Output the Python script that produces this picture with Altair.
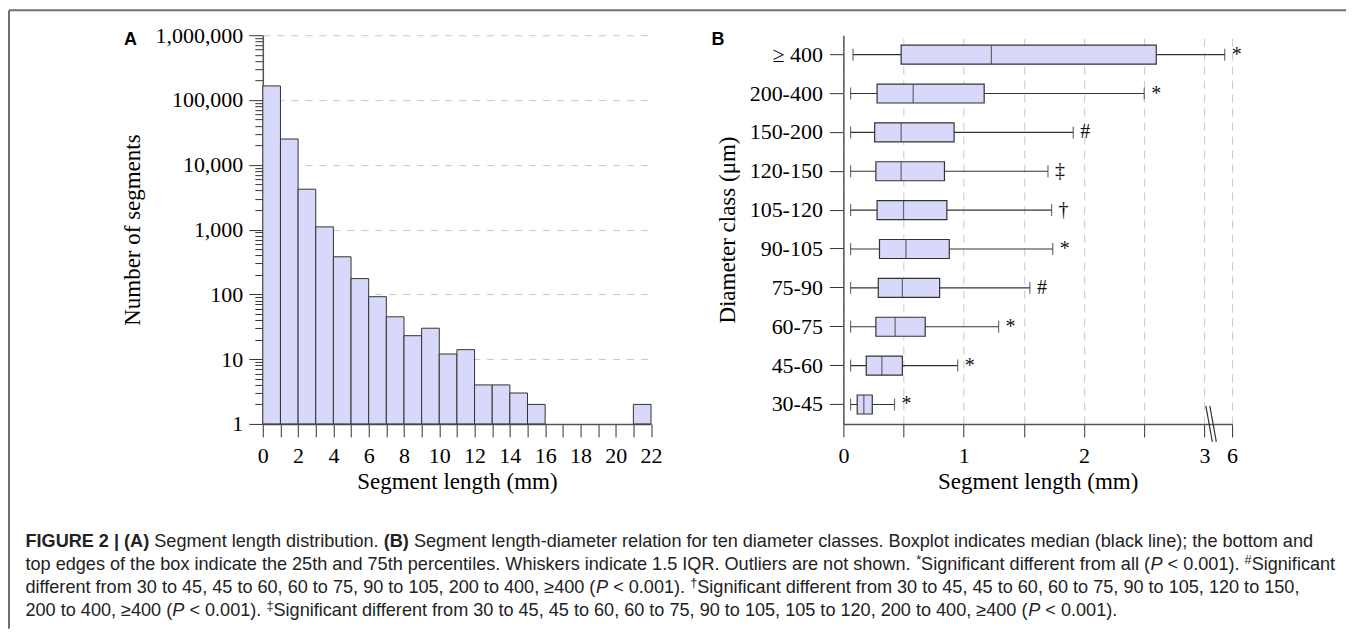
import altair as alt
import pandas as pd

# ---------------- data ----------------
# Panel A: segment length histogram (1 mm bins)
bin_start = list(range(22))
seg_counts = [165000, 25000, 4200, 1100, 380, 175, 92, 45, 23, 30, 12, 14,
              4, 4, 3, 2, 0, 0, 0, 0, 0, 2]

# Panel B: boxplot stats per diameter class (mm)
classes = ["≥ 400", "200-400", "150-200", "120-150", "105-120",
           "90-105", "75-90", "60-75", "45-60", "30-45"]
w_lo = [0.08, 0.06, 0.06, 0.06, 0.06, 0.06, 0.06, 0.06, 0.06, 0.06]
q1 = [0.48, 0.28, 0.26, 0.27, 0.28, 0.30, 0.29, 0.27, 0.19, 0.115]
med = [1.23, 0.58, 0.48, 0.48, 0.50, 0.52, 0.49, 0.43, 0.32, 0.17]
q3 = [2.60, 1.17, 0.92, 0.84, 0.86, 0.88, 0.80, 0.68, 0.49, 0.24]
w_hi = [5.2, 2.50, 1.91, 1.70, 1.73, 1.74, 1.55, 1.29, 0.95, 0.425]
sig = ["*", "*", "#", "‡", "†", "*", "#", "*", "*", "*"]

x_ticks_B = [0, 0.5, 1, 1.5, 2, 2.5, 3, 6]

caption_lines = [
    [("FIGURE 2 | (A)", "b"), (" Segment length distribution. ", "n"), ("(B)", "b"),
     (" Segment length-diameter relation for ten diameter classes. Boxplot indicates median (black line); the bottom and", "n")],
    [("top edges of the box indicate the 25th and 75th percentiles. Whiskers indicate 1.5 IQR. Outliers are not shown. ", "n"),
     ("*", "s"), ("Significant different from all (", "n"), ("P", "i"), (" < 0.001). ", "n"), ("#", "s"), ("Significant", "n")],
    [("different from 30 to 45, 45 to 60, 60 to 75, 90 to 105, 200 to 400, ≥400 (", "n"), ("P", "i"),
     (" < 0.001). ", "n"), ("†", "s"),
     ("Significant different from 30 to 45, 45 to 60, 60 to 75, 90 to 105, 120 to 150,", "n")],
    [("200 to 400, ≥400 (", "n"), ("P", "i"), (" < 0.001). ", "n"), ("‡", "s"),
     ("Significant different from 30 to 45, 45 to 60, 60 to 75, 90 to 105, 105 to 120, 200 to 400, ≥400 (", "n"),
     ("P", "i"), (" < 0.001).", "n")],
]

# ---------------- styling ----------------
FILL = "#d8d8fa"
STROKE = "#333333"
SERIF = "Liberation Serif"
SANS = "Liberation Sans"
WA, WB, H = 388.5, 389, 389

# Helvetica/Arial advance widths (per 1000 em) for caption layout
HELV = {' ': 278, '!': 278, '#': 556, '(': 333, ')': 333, '*': 389, ',': 278, '-': 333, '.': 278,
        ';': 278, '<': 584, 'A': 667, 'B': 667, 'E': 667, 'F': 611, 'G': 778, 'I': 278, 'O': 778,
        'P': 667, 'Q': 778, 'R': 722, 'S': 667, 'U': 722, 'W': 944,
        'a': 556, 'b': 556, 'c': 500, 'd': 556, 'e': 556, 'f': 278, 'g': 556, 'h': 556, 'i': 222,
        'j': 222, 'k': 500, 'l': 222, 'm': 833, 'n': 556, 'o': 556, 'p': 556, 'q': 556, 'r': 333,
        's': 500, 't': 278, 'u': 556, 'v': 500, 'w': 722, 'x': 500, 'y': 500, 'z': 500, '|': 260,
        '≥': 549, '†': 556, '‡': 556}
HELVB = {' ': 278, '(': 333, ')': 333, 'A': 722, 'B': 722, 'E': 667, 'F': 611, 'G': 778,
         'I': 278, 'R': 722, 'U': 722, '|': 280}
SUP = 0.7


def em_width(txt, style):
    tot = 0
    for ch in txt:
        if style == "b" and ch in HELVB:
            tot += HELVB[ch]
        else:
            tot += HELV.get(ch, 556)
    w = tot / 1000.0
    return w * SUP if style == "s" else w


line1_em = sum(em_width(t, s) for t, s in caption_lines[0])
CAP_FS = 1289.0 / line1_em
CAP_X0 = -237.5
CAP_Y = [512.5, 535.5, 558.5, 581.5]

rows = []
for li, segs in enumerate(caption_lines):
    x = CAP_X0
    for t, s in segs:
        lead = len(t) - len(t.lstrip(" "))
        x_draw = x + em_width(" " * lead, s) * CAP_FS
        rows.append({"t": t.strip(" "), "x": x_draw,
                     "y": CAP_Y[li] - (6 if s == "s" else 0), "style": s})
        x += em_width(t, s) * CAP_FS
cap_df = pd.DataFrame(rows)


def cap_layer(style, **kw):
    return alt.Chart(cap_df[cap_df["style"] == style]).mark_text(
        font=SANS, align="left", baseline="alphabetic", color="#222", **kw
    ).encode(
        x=alt.X("x:Q", scale=None, axis=None),
        y=alt.Y("y:Q", scale=None, axis=None),
        text="t:N",
    )


captions = alt.layer(
    cap_layer("n", fontSize=CAP_FS),
    cap_layer("b", fontSize=CAP_FS, fontWeight="bold"),
    cap_layer("i", fontSize=CAP_FS, fontStyle="italic"),
    cap_layer("s", fontSize=CAP_FS * SUP),
)

one = pd.DataFrame({"k": [0]})
frame_top = alt.Chart(one).mark_rule(color="#6e6e6e", strokeWidth=2).encode(
    x=alt.value(-254), x2=alt.value(1084), y=alt.value(-25))
frame_left = alt.Chart(one).mark_rule(color="#6e6e6e", strokeWidth=2).encode(
    x=alt.value(-254), y=alt.value(-25), y2=alt.value(594))

# ---------------- Panel A ----------------
dfA = pd.DataFrame({"start": bin_start, "end": [s + 1 for s in bin_start], "count": seg_counts})
dfA = dfA[dfA["count"] > 0]

y_tick_vals = [m * 10 ** k for k in range(6) for m in range(1, 10)] + [10 ** 6]
is_major = "abs(log(datum.value)/LN10 - round(log(datum.value)/LN10)) < 0.000001"

bars = alt.Chart(dfA).mark_rect(fill=FILL, stroke=STROKE, strokeWidth=1).encode(
    x=alt.X("start:Q", scale=alt.Scale(domain=[0, 22], nice=False),
            axis=alt.Axis(values=list(range(23)),
                          labelExpr="datum.value % 2 == 0 ? datum.value : ''",
                          title="Segment length (mm)", tickSize=13, labelPadding=9,
                          titlePadding=4, grid=False, labelFlush=False, labelOverlap=False)),
    x2="end:Q",
    y=alt.Y("count:Q", scale=alt.Scale(type="log", domain=[1, 1e6], nice=False),
            axis=alt.Axis(values=y_tick_vals,
                          labelExpr=f"{is_major} ? format(datum.value, ',') : ''",
                          tickSize={"condition": {"test": is_major, "value": 14}, "value": 8},
                          grid=True, gridDash=[7, 7], gridColor="#c8c8c8",
                          gridOpacity={"condition": {"test": f"({is_major}) && datum.value > 1",
                                                     "value": 1}, "value": 0},
                          title="Number of segments", titlePadding=10, labelPadding=6,
                          labelFlush=False, labelOverlap=False)),
    y2=alt.Y2Datum(1),
)

labelA = alt.Chart(one).mark_text(text="A", font=SANS, fontWeight="bold", fontSize=18,
                                  align="left", baseline="alphabetic").encode(
    x=alt.value(-139), y=alt.value(10))

panelA = alt.layer(bars, labelA, frame_top, frame_left, captions).properties(width=WA, height=H)

# ---------------- Panel B ----------------
def brk(v):
    return v if v <= 3 else 3 + (v - 3) * 0.23 / 3


dfB = pd.DataFrame({"cls": classes, "lo": w_lo, "q1": q1, "med": med, "q3": q3, "hi": w_hi, "sig": sig})
for c in ["lo", "q1", "med", "q3", "hi"]:
    dfB[c + "_p"] = dfB[c].map(brk)

xB_vals = [brk(v) for v in x_ticks_B]
xB_scale = alt.Scale(domain=[0, brk(6)], nice=False)
xB_axis = alt.Axis(values=xB_vals,
                   labelExpr=f"datum.value == {brk(6)} ? '6' : (datum.value % 1 == 0 ? datum.value : '')",
                   grid=True, gridDash=[8, 6], gridColor="#c8c8c8", tickSize=13,
                   title="Segment length (mm)", labelPadding=9, titlePadding=4,
                   labelFlush=False, labelOverlap=False)
yB = alt.Y("cls:N", sort=classes, scale=alt.Scale(paddingInner=0, paddingOuter=0),
           axis=alt.Axis(title="Diameter class (μm)", tickSize=14, labelPadding=7, titlePadding=10))

baseB = alt.Chart(dfB)
whisk = baseB.mark_rule(color=STROKE, strokeWidth=1.2).encode(
    x=alt.X("lo_p:Q", scale=xB_scale, axis=xB_axis), x2="hi_p:Q", y=yB)
cap_lo = baseB.mark_tick(color=STROKE, size=12, thickness=1.2).encode(
    x="lo_p:Q", y=alt.Y("cls:N", sort=classes))
cap_hi = baseB.mark_tick(color=STROKE, size=12, thickness=1.2).encode(
    x="hi_p:Q", y=alt.Y("cls:N", sort=classes))
box = baseB.mark_bar(fill=FILL, stroke=STROKE, strokeWidth=1.2, size=19).encode(
    x="q1_p:Q", x2="q3_p:Q", y=alt.Y("cls:N", sort=classes))
med_t = baseB.mark_tick(color=STROKE, size=19, thickness=1.2).encode(
    x="med_p:Q", y=alt.Y("cls:N", sort=classes))
sym = baseB.mark_text(font=SERIF, fontSize=20, align="left", dx=7, baseline="middle",
                      color="#111").encode(
    x="hi_p:Q", y=alt.Y("cls:N", sort=classes), text="sig:N")

brk_df = pd.DataFrame({"b0": [3.012, 3.045], "b1": [3.066, 3.099]})
brk_marks = alt.Chart(brk_df).mark_rule(color=STROKE, strokeWidth=1.2).encode(
    x="b0:Q", x2="b1:Q", y=alt.value(371), y2=alt.value(407))

labelB = alt.Chart(one).mark_text(text="B", font=SANS, fontWeight="bold", fontSize=18,
                                  align="left", baseline="alphabetic").encode(
    x=alt.value(-132), y=alt.value(10))

panelB = alt.layer(whisk, box, med_t, cap_lo, cap_hi, sym, brk_marks, labelB).properties(
    width=WB, height=H)

chart = alt.hconcat(panelA, panelB, spacing=192, bounds="flush").properties(
    padding={"left": 0, "top": 1, "right": 0, "bottom": 0}
).configure_view(stroke=None).configure_axis(
    labelFont=SERIF, labelFontSize=22, labelColor="#000",
    titleFont=SERIF, titleFontSize=23, titleFontWeight="normal", titleColor="#000",
    domainColor="#555", domainWidth=1.5, tickColor="#333", tickWidth=1,
)

chart.save("out.html", embed_options={"renderer": "svg", "actions": False})
